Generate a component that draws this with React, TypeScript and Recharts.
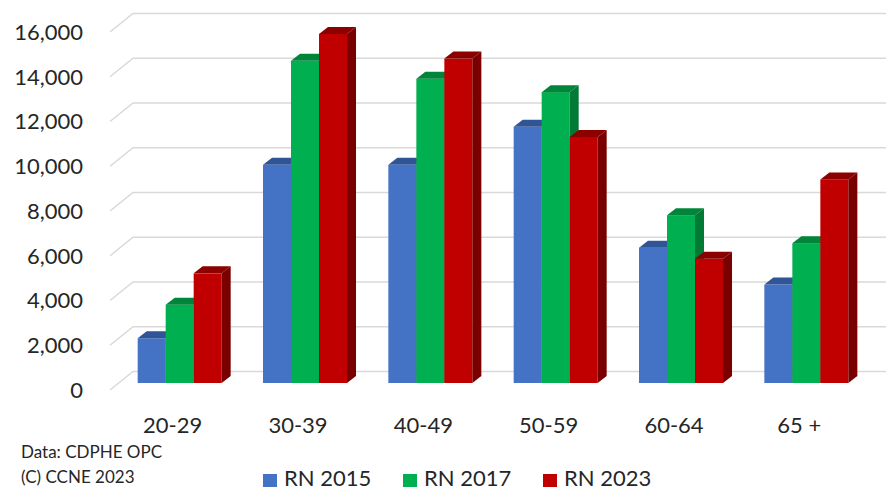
import React from 'react';
import { BarChart, Bar, XAxis, YAxis, CartesianGrid, Legend } from 'recharts';

const AGE_GROUPS = ['20-29', '30-39', '40-49', '50-59', '60-64', '65 +'];
const RN_2015 = [2000, 9750, 9750, 11450, 6050, 4400];
const RN_2017 = [3500, 14400, 13600, 13000, 7500, 6250];
const RN_2023 = [4900, 15600, 14500, 11000, 5550, 9100];
const Y_TICKS = [0, 2000, 4000, 6000, 8000, 10000, 12000, 14000, 16000];

const data = AGE_GROUPS.map((age, i) => ({ age, rn2015: RN_2015[i], rn2017: RN_2017[i], rn2023: RN_2023[i] }));

const FONT = 'Lato, "Open Sans", sans-serif';
const TEXT = '#262626';
const DX = 9, DY = 7; // bar extrusion

const SERIES = [
  { key: 'rn2015', name: 'RN 2015', front: '#4472c4', top: '#2f5597', side: '#2c4f8a' },
  { key: 'rn2017', name: 'RN 2017', front: '#00b050', top: '#00853b', side: '#007a35' },
  { key: 'rn2023', name: 'RN 2023', front: '#c00000', top: '#8c0000', side: '#7a0000' },
];

const box = (top: string, side: string) => (p: any) => {
  const { x, y, width: w, height: h, fill } = p;
  if (!h) return <g />;
  return (
    <g>
      <rect x={x} y={y} width={w} height={h} fill={fill} />
      <polygon points={`${x},${y} ${x + DX},${y - DY} ${x + w + DX},${y - DY} ${x + w},${y}`} fill={top} />
      <polygon points={`${x + w},${y} ${x + w + DX},${y - DY} ${x + w + DX},${y + h - DY} ${x + w},${y + h}`} fill={side} />
    </g>
  );
};

// back-wall gridline with the diagonal floor/side edge
const gridLine = (p: any) => {
  const y = p.y1;
  return (
    <polyline key={p.key ?? `g${y}`} points={`110,${y + 7} 133,${y - 11.5} 886,${y - 11.5}`}
      fill="none" stroke="#d9d9d9" strokeWidth={1.5} />
  );
};

const YTick = (p: any) => (
  <text x={83} y={p.y + 7} dy="0.36em" textAnchor="end" fontSize={22} fill={TEXT} fontFamily={FONT}>
    {Number(p.payload.value).toLocaleString('en-US')}
  </text>
);

const XTick = (p: any) => (
  <text x={p.x - 7} y={433} textAnchor="middle" fontSize={22} fill={TEXT} fontFamily={FONT}>
    {p.payload.value}
  </text>
);

const LegendContent = (p: any) => (
  <div style={{ display: 'flex', fontFamily: FONT, fontSize: 22, color: TEXT, lineHeight: '22px' }}>
    {(p.payload || []).map((e: any) => (
      <div key={e.value} style={{ width: 140, display: 'flex', alignItems: 'flex-end' }}>
        <span style={{ width: 14, height: 13, background: e.color, marginRight: 7, marginBottom: 2 }} />
        <span>{e.value}</span>
      </div>
    ))}
  </div>
);

export default function App() {
  return (
    <div style={{ position: 'absolute', left: 0, top: 0, width: 888, height: 491, background: '#fff' }}>
      <BarChart width={888} height={491} data={data} margin={{ top: 25, right: 19, left: 0, bottom: 0 }}
        barCategoryGap="16.5%" barGap={0}>
        <CartesianGrid vertical={false} horizontal={gridLine} />
        <XAxis dataKey="age" height={108} axisLine={false} tickLine={false} interval={0} tick={XTick} />
        <YAxis width={117} domain={[0, 16000]} ticks={Y_TICKS} axisLine={false} tickLine={false} tick={YTick} />
        <Legend layout="horizontal" verticalAlign="middle" align="center" content={LegendContent}
          wrapperStyle={{ position: 'absolute', top: 467, left: 263, width: 'auto' }} />
        {SERIES.map(s => (
          <Bar key={s.key} dataKey={s.key} name={s.name} fill={s.front} isAnimationActive={false}
            shape={box(s.top, s.side)} />
        ))}
      </BarChart>
      <div style={{ position: 'absolute', left: 21, top: 439, fontFamily: FONT, fontSize: 17, lineHeight: '25px', color: TEXT }}>
        <div>Data: CDPHE OPC</div>
        <div>(C) CCNE 2023</div>
      </div>
    </div>
  );
}
